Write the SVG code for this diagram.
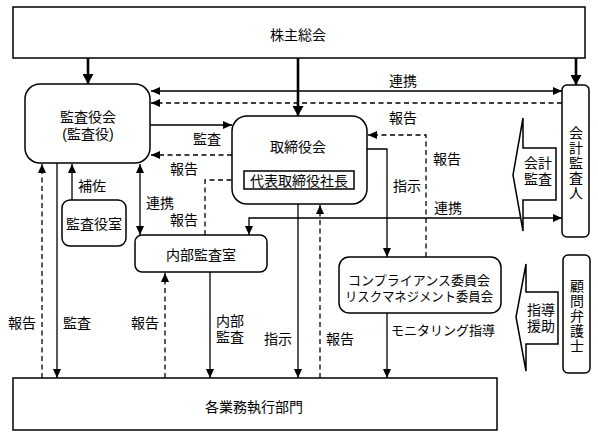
<svg xmlns="http://www.w3.org/2000/svg" width="598" height="437" viewBox="0 0 598 437">
<style>
.box{fill:#fff;stroke:#000;stroke-width:1.5}
.ln{fill:none;stroke:#000;stroke-width:1.3}
.th{fill:none;stroke:#000;stroke-width:2.6}
.ds{fill:none;stroke:#000;stroke-width:1.3;stroke-dasharray:5 3.5}
text{font-family:"Noto Sans CJK JP","Noto Sans",sans-serif;font-size:14px;fill:#000;text-anchor:middle;dominant-baseline:central}
.sm{font-size:13px}
.ml{font-family:"Liberation Sans","Noto Sans CJK JP",sans-serif}
.vt{writing-mode:vertical-rl;letter-spacing:1px}
</style>
<defs>
<marker id="a" markerUnits="userSpaceOnUse" markerWidth="9" markerHeight="8" refX="9" refY="4" orient="auto-start-reverse"><path d="M0,0 L9,4 L0,8 z" fill="#000"/></marker>
<marker id="b" markerUnits="userSpaceOnUse" markerWidth="10" markerHeight="11" refX="10" refY="5.5" orient="auto"><path d="M0,0 L10,5.5 L0,11 z" fill="#000"/></marker>
</defs>

<g id="connectors">
<path class="th" d="M88,58 V84" marker-end="url(#b)"/>
<path class="th" d="M298,58 V116" marker-end="url(#b)"/>
<path class="th" d="M576,58 V85" marker-end="url(#b)"/>
<path class="ln" d="M151,91 H562" marker-start="url(#a)" marker-end="url(#a)"/>
<path class="ds" d="M562,103 H151" marker-end="url(#a)"/>
<path class="ln" d="M150,125 H232" marker-end="url(#a)"/>
<path class="ds" d="M232,155 H151" marker-end="url(#a)"/>
<path class="ln" d="M140,164 V235" marker-start="url(#a)" marker-end="url(#a)"/>
<path class="ln" d="M72,200 V164" marker-end="url(#a)"/>
<path class="ds" d="M205,235 V180 H244" marker-end="url(#a)"/>
<path class="ln" d="M249,235 V218 H562" marker-start="url(#a)" marker-end="url(#a)"/>
<path class="ln" d="M367,149 H387 V257" marker-end="url(#a)"/>
<path class="ds" d="M426,257 V135 H368" marker-end="url(#a)"/>
<path class="ln" d="M387,313 V378" marker-end="url(#a)"/>
<path class="ds" d="M42,378 V164" marker-end="url(#a)"/>
<path class="ln" d="M57,163 V378" marker-end="url(#a)"/>
<path class="ds" d="M165,378 V273" marker-end="url(#a)"/>
<path class="ln" d="M210,272 V378" marker-end="url(#a)"/>
<path class="ln" d="M298,204 V378" marker-end="url(#a)"/>
<path class="ds" d="M320,378 V205" marker-end="url(#a)"/>
</g>

<g id="labels">
<text x="403" y="80">連携</text>
<text x="403" y="117">報告</text>
<text x="207" y="138">監査</text>
<text x="184" y="168">報告</text>
<text x="92" y="185">補佐</text>
<text x="160" y="202">連携</text>
<text x="184" y="219">報告</text>
<text x="447" y="158">報告</text>
<text x="407" y="185">指示</text>
<text x="448" y="207">連携</text>
<text class="sm" x="443" y="329">モニタリング指導</text>
<text x="22" y="322">報告</text>
<text x="77" y="322">監査</text>
<text x="145" y="322">報告</text>
<text class="ml" x="230" y="321">内部<tspan x="230" dy="16">監査</tspan></text>
<text x="278" y="338">指示</text>
<text x="340" y="338">報告</text>
</g>

<g id="kabunushi">
<rect class="box" x="13" y="7" width="572" height="51"/>
<text x="298" y="34">株主総会</text>
</g>

<g id="kansayakukai">
<rect class="box" x="25" y="84" width="125" height="79" rx="15"/>
<text class="ml" x="88" y="117">監査役会<tspan x="88" dy="17">(監査役)</tspan></text>
</g>

<g id="torishimariyakukai">
<rect class="box" x="232" y="116" width="135" height="88" rx="15"/>
<text x="298" y="146">取締役会</text>
<g id="shacho">
<rect class="box" x="244" y="171" width="110" height="18" stroke-width="1.3"/>
<text x="299" y="180">代表取締役社長</text>
</g>
</g>

<g id="kansayakushitsu">
<rect class="box" x="62" y="200" width="64" height="46" rx="8"/>
<text x="94" y="223">監査役室</text>
</g>

<g id="naibukansashitsu">
<rect class="box" x="135" y="235" width="132" height="37" rx="7"/>
<text x="201" y="254">内部監査室</text>
</g>

<g id="compliance">
<rect class="box" x="339" y="257" width="162" height="56" rx="10"/>
<text class="sm ml" x="419" y="280">コンプライアンス委員会<tspan x="419" dy="16" textLength="148" lengthAdjust="spacingAndGlyphs">リスクマネジメント委員会</tspan></text>
</g>

<g id="kakugyomu">
<rect class="box" x="13" y="378" width="484" height="52"/>
<text x="254" y="406">各業務執行部門</text>
</g>

<g id="kaikeikansanin">
<rect class="box" x="562" y="85" width="27" height="152" rx="5"/>
<text class="vt" x="576" y="163">会計監査人</text>
</g>

<g id="kaikeikansa-callout">
<path class="box" stroke-width="1.3" d="M523,118 V148 H556 V200 H523 V231 L513,175 Z"/>
<text class="ml" x="538" y="163">会計<tspan x="538" dy="15.5">監査</tspan></text>
</g>

<g id="komonbengoshi">
<rect class="box" x="563" y="255" width="27" height="118" rx="5"/>
<text class="vt" x="577" y="316">顧問弁護士</text>
</g>

<g id="shidoenjo-callout">
<path class="box" stroke-width="1.3" d="M526,264 V292 H558 V344 H526 V371 L516,317 Z"/>
<text class="ml" x="541" y="310">指導<tspan x="541" dy="16">援助</tspan></text>
</g>
</svg>
